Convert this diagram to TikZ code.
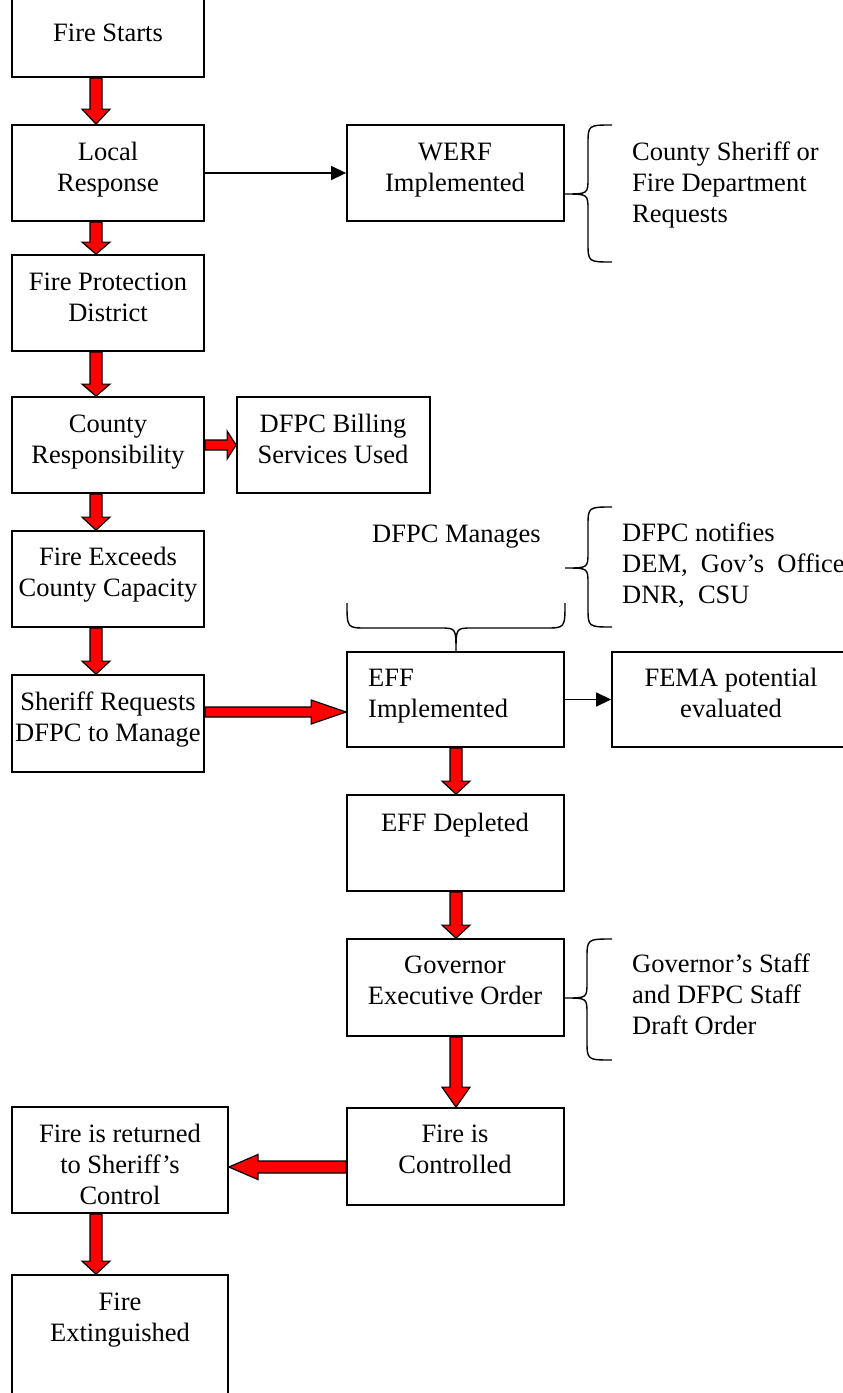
\documentclass[tikz,border=0pt]{standalone}
\usepackage{fontspec}
\setmainfont{Liberation Serif}
\usetikzlibrary{calc,arrows.meta}
% #1 x, #2 from node, #3 to node, #4 head length
\newcommand\redDown[4]{%
  \draw[redarr] let \p1=(#2.south), \p2=(#3.north) in
    (#1pt-6pt,\y1) -- (#1pt+6pt,\y1) -- (#1pt+6pt,\y2+#4pt) -- (#1pt+14pt,\y2+#4pt)
    -- (#1pt,\y2) -- (#1pt-14pt,\y2+#4pt) -- (#1pt-6pt,\y2+#4pt) -- cycle;}
% #1 y, #2 from, #3 to, #4 head length, #5 shaft half width, #6 head half width
\newcommand\redRight[6]{%
  \draw[redarr] let \p1=(#2.east), \p2=(#3.west) in
    (\x1,-#1pt+#5pt) -- (\x2-#4pt,-#1pt+#5pt) -- (\x2-#4pt,-#1pt+#6pt) -- (\x2,-#1pt)
    -- (\x2-#4pt,-#1pt-#6pt) -- (\x2-#4pt,-#1pt-#5pt) -- (\x1,-#1pt-#5pt) -- cycle;}
\newcommand\redLeft[6]{%
  \draw[redarr] let \p1=(#2.west), \p2=(#3.east) in
    (\x1,-#1pt+#5pt) -- (\x2+#4pt,-#1pt+#5pt) -- (\x2+#4pt,-#1pt+#6pt) -- (\x2,-#1pt)
    -- (\x2+#4pt,-#1pt-#6pt) -- (\x2+#4pt,-#1pt-#5pt) -- (\x1,-#1pt-#5pt) -- cycle;}
% vertical brace opening right: #1 tip x, #2 line x, #3 end x, #4 top, #5 tip y, #6 bottom
\newcommand\vBrace[6]{%
  \draw[brace] (#3,#4) .. controls (#2,#4) .. (#2,#4+20) -- (#2,#5-16)
    .. controls (#2,#5) .. (#1,#5) .. controls (#2,#5) .. (#2,#5+16)
    -- (#2,#6-20) .. controls (#2,#6) .. (#3,#6);}
\begin{document}
\begin{tikzpicture}[x=1pt,y=-1pt,
  box/.style={draw,line width=1.8pt,inner sep=0pt,rectangle},
  txt/.style={font=\fontsize{26.5}{31}\selectfont,align=center,anchor=base,inner sep=0pt},
  ltxt/.style={font=\fontsize{26.5}{31}\selectfont,align=left,anchor=base west,inner sep=0pt},
  redarr/.style={fill=red,draw=black,line width=1.2pt,line join=miter},
  thinarr/.style={line width=1.4pt,-{Triangle[length=15pt,width=14pt]}},
  brace/.style={line width=1.4pt}]
\useasboundingbox (0,0) rectangle (843,1393);
\clip (0,0) rectangle (843,1393);

% boxes
\node[box,minimum width=192,minimum height=117] (fs) at (108,18.5) {};
\node[box,minimum width=192,minimum height=96] (lr) at (108,173) {};
\node[box,minimum width=192,minimum height=96] (fpd) at (108,303) {};
\node[box,minimum width=192,minimum height=96] (cr) at (108,445) {};
\node[box,minimum width=193,minimum height=96] (bill) at (333.5,445) {};
\node[box,minimum width=192,minimum height=96] (fe) at (108,579) {};
\node[box,minimum width=192,minimum height=97] (sr) at (108,723.5) {};
\node[box,minimum width=217,minimum height=96] (werf) at (455.5,173) {};
\node[box,minimum width=217,minimum height=95] (eff) at (455.5,699.5) {};
\node[box,minimum width=238,minimum height=95] (fema) at (731,699.5) {};
\node[box,minimum width=217,minimum height=96] (effd) at (455.5,843) {};
\node[box,minimum width=217,minimum height=97] (gov) at (455.5,987.5) {};
\node[box,minimum width=217,minimum height=97] (fc) at (455.5,1156.5) {};
\node[box,minimum width=216,minimum height=106] (ret) at (120,1160) {};
\node[box,minimum width=216,minimum height=150] (ext) at (120,1350) {};

% texts (anchor = baseline of last line)
\node[txt] (t1) at (108,41) {Fire Starts};
\node[txt] (t2) at (108,191) {Local\\Response};
\node[txt] (t3) at (108,321) {Fire Protection\\District};
\node[txt] (t4) at (108,463) {County\\Responsibility};
\node[txt] (t5) at (333,463) {DFPC Billing\\Services Used};
\node[txt] (t6) at (108,596) {Fire Exceeds\\County Capacity};
\node[txt] (t7) at (108,741) {Sheriff Requests\\DFPC to Manage};
\node[txt] (t8) at (455,191) {WERF\\Implemented};
\node[ltxt] (t9) at (632,222) {County Sheriff or\\Fire Department\\Requests};
\node[ltxt] (t10) at (372,542) {DFPC Manages};
\node[ltxt] (t11) at (622,603) {DFPC notifies\\DEM,\ \ Gov’s\ \ Office\\DNR,\ \ CSU};
\node[ltxt] (t12) at (368,717) {EFF\\Implemented};
\node[txt] (t13) at (731,717) {FEMA potential\\evaluated};
\node[txt] (t14) at (455,831) {EFF Depleted};
\node[txt] (t15) at (455,1004) {Governor\\Executive Order};
\node[ltxt] (t16) at (632,1034) {Governor’s Staff\\and DFPC Staff\\Draft Order};
\node[txt] (t17) at (455,1173) {Fire is\\Controlled};
\node[txt] (t18) at (120,1204) {Fire is returned\\to Sheriff’s\\Control};
\node[txt] (t19) at (120,1341) {Fire\\Extinguished};

% thin arrows
\draw[thinarr] (lr.east) -- (werf.west);
\draw[thinarr] (eff.east) -- (fema.west);

% red arrows
\redDown{96}{fs}{lr}{15}
\redDown{96}{lr}{fpd}{12}
\redDown{96}{fpd}{cr}{12}
\redDown{96}{cr}{fe}{13}
\redDown{96}{fe}{sr}{13}
\redDown{456}{eff}{effd}{13}
\redDown{456}{effd}{gov}{13}
\redDown{456}{gov}{fc}{20}
\redDown{96}{ret}{ext}{13}
\redRight{445}{cr}{bill}{9}{5}{14}
\redRight{712}{sr}{eff}{35}{5}{12}
\redLeft{1167}{fc}{ret}{29}{6}{12.5}

% braces
\vBrace{564}{588}{612}{125}{194}{262}
\vBrace{565}{588}{612}{507}{568}{627}
\vBrace{565}{587}{612}{939}{998}{1060}
\draw[brace] (347,603) .. controls (347,628) .. (367,628) -- (440,628)
  .. controls (456,628) .. (456,652) .. controls (456,628) .. (472,628)
  -- (545,628) .. controls (565,628) .. (565,603);
\end{tikzpicture}
\end{document}
